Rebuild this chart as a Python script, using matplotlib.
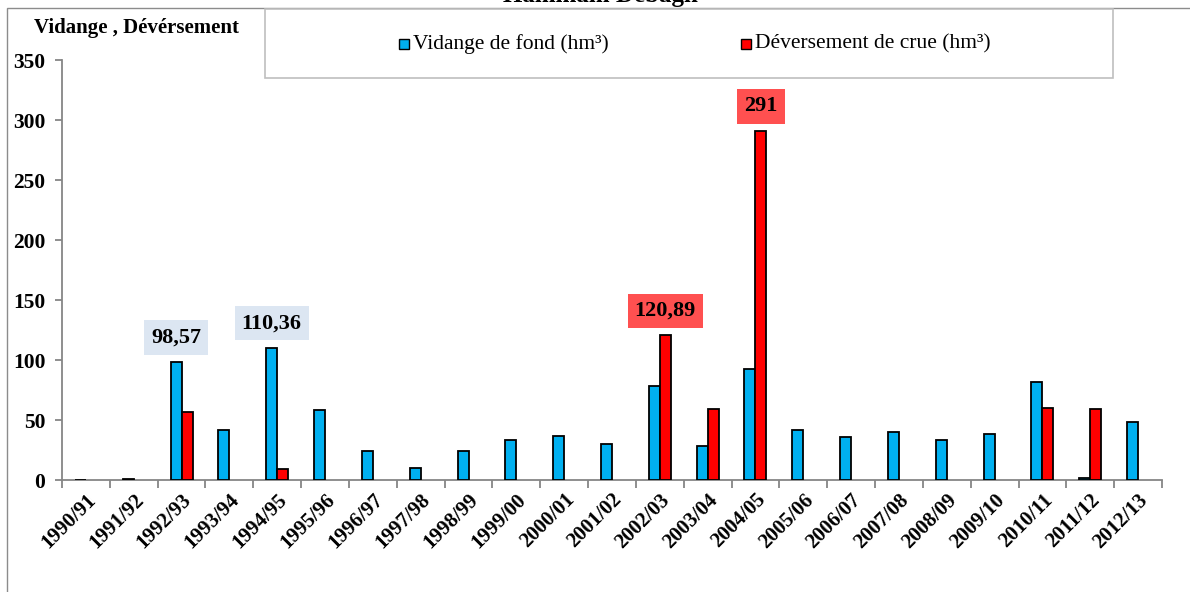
import numpy as np
import matplotlib
matplotlib.use("Agg")
import matplotlib.pyplot as plt
from matplotlib.patches import Rectangle

plt.rcParams['font.family'] = ['Liberation Serif', 'DejaVu Serif']

years = ["1990/91", "1991/92", "1992/93", "1993/94", "1994/95", "1995/96", "1996/97",
         "1997/98", "1998/99", "1999/00", "2000/01", "2001/02", "2002/03", "2003/04",
         "2004/05", "2005/06", "2006/07", "2007/08", "2008/09", "2009/10", "2010/11",
         "2011/12", "2012/13"]
vidange = [0.3, 0.8, 98.57, 42, 110.36, 58.5, 24, 10, 24, 33.5, 36.7, 30, 78, 28,
           92.5, 42, 36, 40, 33, 38, 82, 1.5, 48]
deversement = [0, 0, 57, 0, 9.5, 0, 0, 0, 0, 0, 0, 0, 120.89, 59,
               291, 0, 0, 0, 0, 0, 60, 59, 0]
label_vid = "Vidange de fond (hm³)"
label_dev = "Déversement de crue (hm³)"
title = "Hammam Debagh"
ylabel = "Vidange , Dévérsement"
annot_vid = {2: "98,57", 4: "110,36"}
annot_dev = {12: "120,89", 14: "291"}

W, H = 1190, 592
fig = plt.figure(figsize=(W / 100, H / 100), dpi=100)
ax = fig.add_axes([62 / W, 1 - 480 / H, (1162 - 62) / W, (480 - 60) / H])

x = np.arange(len(years))
bw = 0.23
vid = np.array(vidange, dtype=float)
dev = np.array(deversement, dtype=float)
dev_m = np.where(dev > 0, dev, np.nan)

ax.bar(x - bw / 2, vid, bw, color="#00B0F0", edgecolor="black", linewidth=1.3, zorder=3)
ax.bar(x + bw / 2, dev_m, bw, color="#FF0000", edgecolor="black", linewidth=1.3, zorder=3)

ax.set_xlim(-0.5, len(years) - 0.5)
ax.set_ylim(0, 350)
ax.set_yticks(np.arange(0, 351, 50))
ax.set_yticklabels([str(v) for v in range(0, 351, 50)], fontsize=15.5, fontweight="bold")
ax.set_xticks(x)
ax.set_xticklabels(years, rotation=45, ha="right", va="top", rotation_mode="anchor",
                   fontsize=15, fontweight="bold")
ax.set_xticks(np.arange(-0.5, len(years), 1), minor=True)
ax.tick_params(axis="x", which="major", length=0, pad=7)
ax.tick_params(axis="x", which="minor", length=6, color="#868686", width=1.3, direction="out")
ax.tick_params(axis="y", length=5, color="#868686", width=1.3, pad=7)
for s in ["top", "right"]:
    ax.spines[s].set_visible(False)
for s in ["left", "bottom"]:
    ax.spines[s].set_color("#868686")
    ax.spines[s].set_linewidth(1.3)

for i, t in annot_vid.items():
    ax.annotate(t, (x[i] - bw / 2, vid[i]), xytext=(0, 17.5), textcoords="offset points",
                ha="center", va="center", fontsize=16, fontweight="bold", zorder=5,
                bbox=dict(boxstyle="square,pad=0.32", fc="#DCE6F2", ec="none"))
for i, t in annot_dev.items():
    ax.annotate(t, (x[i] + bw / 2, dev[i]), xytext=(0, 17.5), textcoords="offset points",
                ha="center", va="center", fontsize=16, fontweight="bold", zorder=5,
                bbox=dict(boxstyle="square,pad=0.32", fc="#FF5050", ec="none"))

# outer chart frame
fig.patches.append(Rectangle((7 / W, -0.05), 1.1, 1 - 8 / H + 0.05, transform=fig.transFigure,
                             fill=False, ec="#8C8C8C", lw=1.0, zorder=0))

# title (cut off at top)
fig.text(600 / W, 1 - 2 / H, title, ha="center", va="baseline", fontsize=18, fontweight="bold")

# y-axis label
fig.text(137 / W, 1 - 28 / H, ylabel, ha="center", va="center", fontsize=15, fontweight="bold")

# legend box
fig.patches.append(Rectangle((265 / W, 1 - 78 / H), (1113 - 265) / W, (78 - 9) / H,
                             transform=fig.transFigure, fc="white", ec="#BFBFBF", lw=1.2, zorder=2))
ly = 1 - 44 / H
sq = 10
fig.patches.append(Rectangle((399 / W, ly - sq / 2 / H), sq / W, sq / H, transform=fig.transFigure,
                             fc="#00B0F0", ec="black", lw=1.0, zorder=3))
fig.text(413 / W, ly, label_vid, ha="left", va="center", fontsize=15.5, zorder=3)
fig.patches.append(Rectangle((741 / W, ly - sq / 2 / H), sq / W, sq / H, transform=fig.transFigure,
                             fc="#FF0000", ec="black", lw=1.0, zorder=3))
fig.text(755 / W, ly, label_dev, ha="left", va="center", fontsize=15.5, zorder=3)

fig.savefig("out.png", dpi=100)
